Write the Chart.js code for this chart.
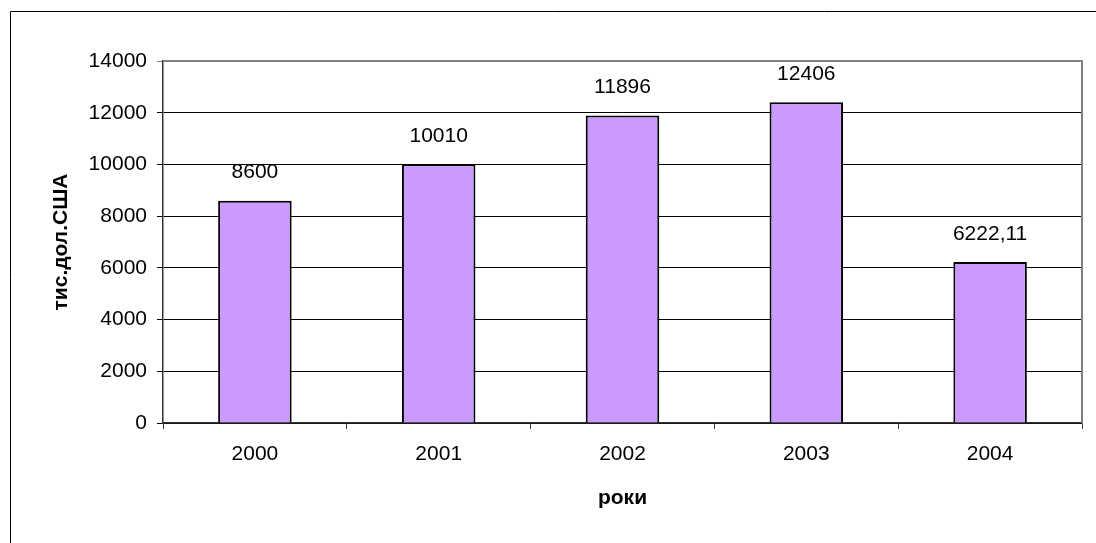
<!DOCTYPE html>
<html>
<head>
<meta charset="utf-8">
<script src="https://cdn.jsdelivr.net/npm/chart.js@4/dist/chart.umd.min.js"></script>
<style>
html,body{margin:0;padding:0;background:#fff;}
#wrap{position:relative;width:1096px;height:543px;}
</style>
</head>
<body>
<div id="wrap"><canvas id="c" width="1096" height="543"></canvas></div>
<script>
const categories = ['2000', '2001', '2002', '2003', '2004'];
const values = [8600, 10010, 11896, 12406, 6222.11];
const valueLabels = ['8600', '10010', '11896', '12406', '6222,11'];
const yTicks = [0, 2000, 4000, 6000, 8000, 10000, 12000, 14000];
const yTitle = 'тис.дол.США';
const xTitle = 'роки';

const FONT = '"Liberation Sans", Arial, sans-serif';

const frame = {
  id: 'frame',
  beforeDraw(chart) {
    const ctx = chart.ctx;
    ctx.save();
    ctx.fillStyle = '#fff';
    ctx.fillRect(0, 0, chart.width, chart.height);
    ctx.strokeStyle = '#000';
    ctx.lineWidth = 1;
    ctx.beginPath();
    ctx.moveTo(10.5, chart.height);
    ctx.lineTo(10.5, 11.5);
    ctx.lineTo(chart.width, 11.5);
    ctx.stroke();
    ctx.restore();
  },
  beforeDatasetsDraw(chart) {
    const a = chart.chartArea, ctx = chart.ctx;
    ctx.save();
    ctx.strokeStyle = '#808080';
    ctx.lineWidth = 2;
    ctx.beginPath();
    ctx.moveTo(a.left, a.top);
    ctx.lineTo(a.right, a.top);
    ctx.lineTo(a.right, a.bottom);
    ctx.stroke();
    ctx.restore();
  },
  afterDatasetsDraw(chart) {
    const ctx = chart.ctx;
    const meta = chart.getDatasetMeta(0);
    ctx.save();
    ctx.fillStyle = '#000';
    ctx.font = '21px ' + FONT;
    ctx.textAlign = 'center';
    ctx.textBaseline = 'middle';
    meta.data.forEach((bar, i) => {
      ctx.fillText(valueLabels[i], bar.x, bar.y - 28);
    });
    ctx.restore();
  }
};

new Chart(document.getElementById('c'), {
  type: 'bar',
  data: {
    labels: categories,
    datasets: [{
      data: values,
      backgroundColor: '#CC99FF',
      borderColor: '#000',
      borderWidth: 2,
      barPercentage: 0.8,
      categoryPercentage: 0.5
    }]
  },
  plugins: [frame],
  options: {
    responsive: false,
    animation: false,
    devicePixelRatio: 1,
    layout: { padding: { left: 0, top: 61, right: 14, bottom: 0 } },
    plugins: { legend: { display: false }, tooltip: { enabled: false } },
    scales: {
      y: {
        min: 0, max: 14000,
        afterFit(s) { s.width = 163; },
        afterBuildTicks(s) { s.ticks = yTicks.map(v => ({ value: v })); },
        border: { display: true, color: '#333', width: 1.5 },
        grid: {
          color: ctx => (ctx.tick && ctx.tick.value === 14000) ? '#808080' : '#000',
          lineWidth: 1,
          tickLength: 6,
          drawTicks: true
        },
        ticks: {
          color: '#000',
          font: { family: FONT, size: 21 },
          padding: 10,
          callback: v => String(v)
        },
        title: {
          display: true,
          text: yTitle,
          color: '#000',
          font: { family: FONT, size: 21, weight: 'bold' },
          padding: { top: 49, bottom: 0 }
        }
      },
      x: {
        afterFit(s) { s.height = 120; },
        border: { display: true, color: '#333', width: 1.5 },
        grid: {
          offset: true,
          drawOnChartArea: false,
          drawTicks: true,
          tickLength: 6,
          color: '#333'
        },
        ticks: {
          color: '#000',
          font: { family: FONT, size: 21 },
          padding: 13
        },
        title: {
          display: true,
          text: xTitle,
          color: '#000',
          font: { family: FONT, size: 21, weight: 'bold' },
          padding: { top: 0, bottom: 32 }
        }
      }
    }
  }
});
</script>
</body>
</html>
